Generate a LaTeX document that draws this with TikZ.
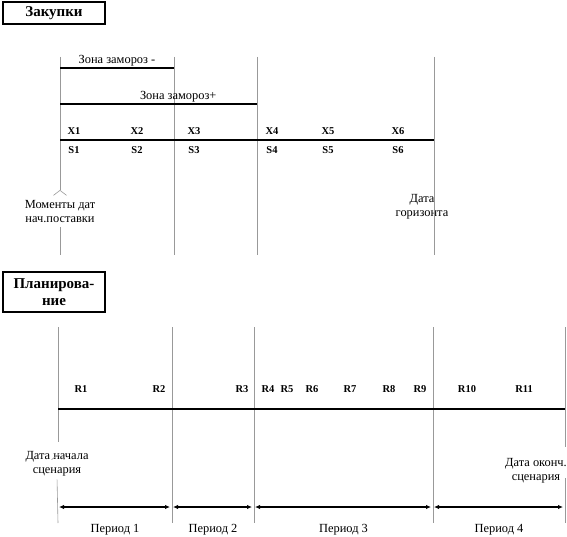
\documentclass[tikz,border=0pt]{standalone}
\usepackage{fontspec}
\setmainfont{Liberation Serif}
\usetikzlibrary{arrows.meta}
\tikzset{
  vline/.style={draw=gray!80,line width=0.6pt},
  hline/.style={draw=black,line width=1.3pt},
  title/.style={draw,line width=1.2pt,minimum width=102pt,inner sep=3pt,align=center,font=\fontsize{15}{17}\selectfont\bfseries},
  lbl/.style={font=\fontsize{10.5}{12}\selectfont\bfseries,inner sep=1pt},
  txt/.style={font=\fontsize{12.4}{14}\selectfont,align=center,inner sep=1pt},
  barb/.style={-{Straight Barb[reversed,length=5pt,width=13pt]}},
  span/.style={{Latex[length=5pt,width=4.5pt]}-{Latex[length=5pt,width=4.5pt]},line width=1.1pt,shorten <=1pt,shorten >=2pt}
}

\begin{document}
\begin{tikzpicture}[x=1pt,y=-1pt]
  \useasboundingbox (0,0) rectangle (567,537);

  \node[title,minimum height=22pt] (zak) at (54,13) {Закупки};

  \coordinate (t1) at (60,57);  \coordinate (b1) at (60,255);
  \coordinate (t2) at (174,57); \coordinate (b2) at (174,255);
  \coordinate (t3) at (257,57); \coordinate (b3) at (257,255);
  \coordinate (t4) at (434,57); \coordinate (b4) at (434,255);

  \node[txt] (mom) at (60,212) {Моменты дат\\нач.поставки};
  \node[txt] (hor) at (422,207) {Дата\\горизонта};

  \draw[vline,barb] (t1) -- ([yshift=4pt]mom.north);
  \draw[vline,shorten <=3pt] (mom.south) -- (b1);
  \draw[vline] (t2) -- (b2);
  \draw[vline] (t3) -- (b3);
  \draw[vline] (t4) -- (b4);

  \coordinate (zm1) at (60,68);  \coordinate (zm2) at (174,68);
  \coordinate (zp1) at (60,104); \coordinate (zp2) at (257,104);
  \coordinate (ax1) at (60,140); \coordinate (ax2) at (434,140);

  \draw[hline,line width=1.1pt] (zm1) -- (zm2) node[midway,above,txt] {Зона замороз -};
  \draw[hline,line width=1.1pt] (zp1) -- (zp2) node[pos=0.6,above,txt] {Зона замороз+};
  \draw[hline] (ax1) -- (ax2);

  \node[lbl] (x1) at (74,131) {X1};  \node[lbl] (s1) at (74,150) {S1};
  \node[lbl] (x2) at (137,131) {X2}; \node[lbl] (s2) at (137,150) {S2};
  \node[lbl] (x3) at (194,131) {X3}; \node[lbl] (s3) at (194,150) {S3};
  \node[lbl] (x4) at (272,131) {X4}; \node[lbl] (s4) at (272,150) {S4};
  \node[lbl] (x5) at (328,131) {X5}; \node[lbl] (s5) at (328,150) {S5};
  \node[lbl] (x6) at (398,131) {X6}; \node[lbl] (s6) at (398,150) {S6};

  \node[title,minimum height=40pt] (plan) at (54,292) {Планирова-\\ние};

  \coordinate (p1t) at (58,327);  \coordinate (p1g) at (58,442);
  \coordinate (p1c) at (58,460);  \coordinate (p1b) at (58,523);
  \coordinate (p2t) at (172,327); \coordinate (p2b) at (172,523);
  \coordinate (p3t) at (254,327); \coordinate (p3b) at (254,523);
  \coordinate (p4t) at (433,327); \coordinate (p4b) at (433,523);
  \coordinate (p5t) at (565,327); \coordinate (p5g) at (565,447);
  \coordinate (p5h) at (565,478); \coordinate (p5b) at (565,523);

  \node[txt] (beg) at (57,464) {Дата начала\\сценария};
  \node[txt] (fin) at (536,471) {Дата оконч.\\сценария};

  \draw[vline] (p1t) -- (p1g);
  \draw[vline,barb,shorten <=12pt] (p1g) -- (p1c);
  \draw[vline,shorten <=2pt] (beg.south) -- (p1b);
  \draw[vline] (p2t) -- (p2b);
  \draw[vline] (p3t) -- (p3b);
  \draw[vline] (p4t) -- (p4b);
  \draw[vline] (p5t) -- (p5g);
  \draw[vline] (p5h) -- (p5b);

  \coordinate (r0) at (58,409); \coordinate (r9) at (565,409);
  \draw[hline] (r0) -- (r9);

  \node[lbl] (r1) at (81,389) {R1};
  \node[lbl] (r2) at (159,389) {R2};
  \node[lbl] (r3) at (242,389) {R3};
  \node[lbl] (r4) at (268,389) {R4};
  \node[lbl] (r5) at (287,389) {R5};
  \node[lbl] (r6) at (312,389) {R6};
  \node[lbl] (r7) at (350,389) {R7};
  \node[lbl] (r8) at (389,389) {R8};
  \node[lbl] (r9l) at (420,389) {R9};
  \node[lbl] (r10) at (467,389) {R10};
  \node[lbl] (r11) at (524,389) {R11};

  \coordinate (q1) at (58,507);  \coordinate (q2) at (172,507);
  \coordinate (q3) at (254,507); \coordinate (q4) at (433,507);
  \coordinate (q5) at (565,507);

  \draw[span] (q1) -- (q2) node[midway,below=16pt,txt] {Период 1};
  \draw[span] (q2) -- (q3) node[midway,below=16pt,txt] {Период 2};
  \draw[span] (q3) -- (q4) node[midway,below=16pt,txt] {Период 3};
  \draw[span] (q4) -- (q5) node[midway,below=16pt,txt] {Период 4};
\end{tikzpicture}
\end{document}
